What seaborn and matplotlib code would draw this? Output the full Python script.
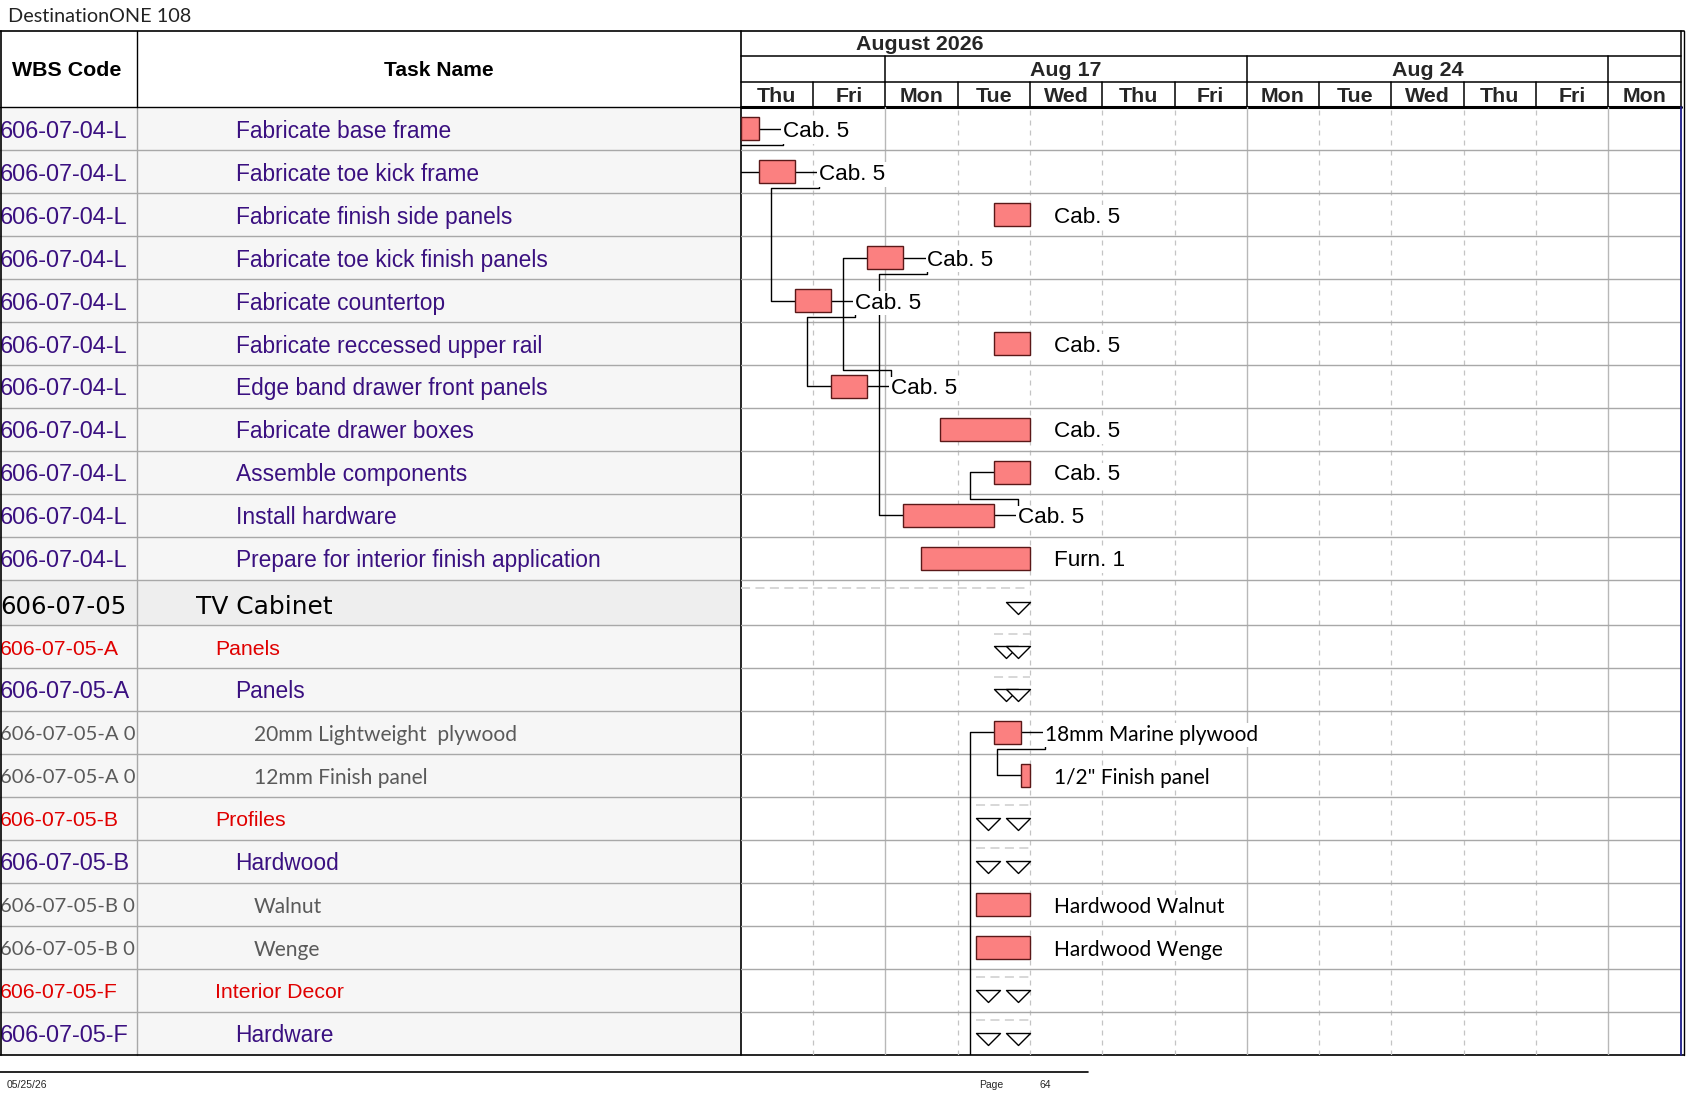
import matplotlib
matplotlib.use("Agg")
import matplotlib.pyplot as plt
from matplotlib.patches import Rectangle
from matplotlib.path import Path
import numpy as np
import pandas as pd
import seaborn as sns

sns.set_theme(style="white")
plt.rcParams['font.family'] = ['Liberation Sans', 'DejaVu Sans']

# ---------------- data ----------------
title = "DestinationONE 108"
month_label = "August 2026"
week_labels = ["", "Aug 17", "Aug 24", ""]
week_start = [0, 2, 7, 12]
week_end = [2, 7, 12, 13]
day_labels = ["Thu", "Fri", "Mon", "Tue", "Wed", "Thu", "Fri",
              "Mon", "Tue", "Wed", "Thu", "Fri", "Mon"]
week_first_days = [2, 7, 12]          # Mondays (solid grid lines)

wbs_codes = ["606-07-04-L"] * 11 + [
    "606-07-05", "606-07-05-A", "606-07-05-A", "606-07-05-A 0", "606-07-05-A 0",
    "606-07-05-B", "606-07-05-B", "606-07-05-B 0", "606-07-05-B 0",
    "606-07-05-F", "606-07-05-F"]
task_names = [
    "Fabricate base frame", "Fabricate toe kick frame", "Fabricate finish side panels",
    "Fabricate toe kick finish panels", "Fabricate countertop",
    "Fabricate reccessed upper rail", "Edge band drawer front panels",
    "Fabricate drawer boxes", "Assemble components", "Install hardware",
    "Prepare for interior finish application", "TV Cabinet", "Panels", "Panels",
    "20mm Lightweight  plywood", "12mm Finish panel", "Profiles", "Hardwood",
    "Walnut", "Wenge", "Interior Decor", "Hardware"]
row_kinds = ["task"] * 11 + ["summary1", "summary2", "summary3", "item", "item",
                             "summary2", "summary3", "item", "item",
                             "summary2", "summary3"]
# start / finish in working days from Thu Aug 13
start_day = [0.0, 0.25, 3.5, 1.75, 0.75, 3.5, 1.25, 2.75, 3.5, 2.25, 2.5,
             -2.0, 3.5, 3.5, 3.5, 3.875, 3.25, 3.25, 3.25, 3.25, 3.25, 3.25]
finish_day = [0.25, 0.75, 4.0, 2.25, 1.25, 4.0, 1.75, 4.0, 4.0, 3.5, 4.0,
              4.0, 4.0, 4.0, 3.875, 4.0, 4.0, 4.0, 4.0, 4.0, 4.0, 4.0]
bar_labels = ["Cab. 5"] * 10 + ["Furn. 1", "", "", "", "18mm Marine plywood",
                                '1/2" Finish panel', "", "", "Hardwood Walnut",
                                "Hardwood Wenge", "", ""]
links = [(0, 1), (1, 4), (4, 6), (6, 3), (3, 9), (9, 8), (14, 15)]
offpage_in = [14]
footer_date = "05/25/26"
page_label = "Page"
page_no = "64"

# ---------------- layout ----------------
W, H = 1687, 1097
X0, X1 = 740.7, 1680.7
HEAD_TOP, BODY_TOP = 30.7, 107.3
NDAYS = len(day_labels)
DW = (X1 - X0) / NDAYS
row_h = np.array([45.3 if k == "summary1" else 42.95 for k in row_kinds])
tops = np.concatenate([[0], np.cumsum(row_h)])[:-1]
centers = tops + row_h / 2
TOTAL = row_h.sum()
BODY_BOT = BODY_TOP + TOTAL
GAP = 24 / DW            # link / label offset in days
OFF = 16.7               # link vertical offset in px
TDY = 2.5                # text baseline nudge (px)

PURPLE = "#3a1080"
RED = "#e00000"
GRAY = "#5a5a5a"
GRID = "#a8a8a8"

fig = plt.figure(figsize=(W / 100, H / 100), dpi=100)
fig.patch.set_facecolor("white")

axT = fig.add_axes([0, 0, 1, 1])
axT.set_xlim(0, W)
axT.set_ylim(H, 0)
axT.axis("off")

axH = fig.add_axes([X0 / W, 1 - BODY_TOP / H, (X1 - X0) / W, (BODY_TOP - HEAD_TOP) / H])
axH.set_xlim(0, NDAYS)
axH.set_ylim(3, 0)
axH.axis("off")

axG = fig.add_axes([X0 / W, 1 - BODY_BOT / H, (X1 - X0) / W, TOTAL / H])
axG.set_xlim(0, NDAYS)
axG.set_ylim(TOTAL, 0)
axG.axis("off")

# ---------------- table background & text ----------------
for i, k in enumerate(row_kinds):
    y = BODY_TOP + tops[i]
    fc = "#eeeeee" if k == "summary1" else "#f6f6f6"
    axT.add_patch(Rectangle((0, y), X0, row_h[i], fc=fc, ec="none", zorder=0))

style = {
    "task": dict(color=PURPLE, family=["Liberation Sans"], size=16.4, csize=16.9, x=235.6),
    "summary3": dict(color=PURPLE, family=["Liberation Sans"], size=16.4, csize=16.9, x=235.6),
    "summary2": dict(color=RED, family=["Liberation Sans"], size=15.3, csize=15.3, x=215),
    "summary1": dict(color="black", family=["DejaVu Sans"], size=17.9, csize=17.6, x=196),
    "item": dict(color=GRAY, family=["Lato", "DejaVu Sans"], size=15.1, csize=14.6, x=254),
}
for i, k in enumerate(row_kinds):
    st = style[k]
    dy = TDY + (2.5 if k == "summary1" else 0)
    yc = BODY_TOP + centers[i] + dy
    axT.text(0, yc, wbs_codes[i], ha="left", va="center", color=st["color"],
             family=st["family"], fontsize=st["csize"], zorder=3)
    axT.text(st["x"], yc, task_names[i], ha="left", va="center", color=st["color"],
             family=st["family"], fontsize=st["size"], zorder=3)

# row lines in table
for b in tops[1:]:
    axT.plot([0, X0], [BODY_TOP + b] * 2, color=GRID, lw=1, zorder=2)
axT.plot([136.7, 136.7], [BODY_TOP, BODY_BOT], color=GRID, lw=1, zorder=2)

# header
axT.plot([136.7, 136.7], [HEAD_TOP, BODY_TOP], color="black", lw=1, zorder=4)
axT.plot([0, X0], [BODY_TOP, BODY_TOP], color="black", lw=1, zorder=4)
axT.text(67, 70, "WBS Code", ha="center", va="center", fontsize=15.4,
         fontweight="bold", color="black")
axT.text(438.5, 70, "Task Name", ha="center", va="center", fontsize=15.1,
         fontweight="bold", color="black")

# frame
axT.plot([0, 1684], [HEAD_TOP, HEAD_TOP], color="black", lw=1.2, zorder=5)
axT.plot([0, 1684], [BODY_BOT, BODY_BOT], color="black", lw=1.2, zorder=5)
axT.plot([0.6, 0.6], [HEAD_TOP, BODY_BOT], color="black", lw=1.2, zorder=5)
axT.plot([1684, 1684], [HEAD_TOP, BODY_BOT], color="black", lw=1.0, zorder=5)
axT.plot([X0, X0], [HEAD_TOP, BODY_BOT], color="black", lw=1.2, zorder=5)

# title & footer
axT.text(8, 16, title, ha="left", va="center", fontsize=14.3,
         family=["Lato", "DejaVu Sans"], color="#222222")
axT.plot([0, 1088], [1071.6, 1071.6], color="black", lw=1.2)
foot_fam = ["Liberation Sans Narrow", "Liberation Sans"]
axT.text(7, 1085, footer_date, ha="left", va="center", fontsize=7.5, family=foot_fam)
axT.text(979, 1085, page_label, ha="left", va="center", fontsize=7.5, family=foot_fam)
axT.text(1040, 1085, page_no, ha="left", va="center", fontsize=7.5, family=foot_fam)

# ---------------- timescale header ----------------
hk = dict(color="black", lw=1.1, clip_on=False)
axH.plot([0, NDAYS], [1, 1], **hk)
axH.plot([0, NDAYS], [2, 2], **hk)
axH.plot([0, NDAYS], [3, 3], color="black", lw=2.2, clip_on=False)
axH.plot([NDAYS, NDAYS], [0, 3], **hk)
for d in range(1, NDAYS):
    axH.plot([d, d], [2, 3], **hk)
for s in week_start[1:]:
    axH.plot([s, s], [1, 2], **hk)
hdy = 0.06
axH.text(2.47, 0.5 + hdy, month_label, ha="center", va="center", fontsize=15.4,
         fontweight="bold")
for lab, s, e in zip(week_labels, week_start, week_end):
    if lab:
        axH.text((s + e) / 2, 1.5 + hdy, lab, ha="center", va="center", fontsize=15.4,
                 fontweight="bold")
for d, lab in enumerate(day_labels):
    axH.text(d + 0.5, 2.5 + hdy, lab, ha="center", va="center", fontsize=15.4,
             fontweight="bold")

# ---------------- gantt body ----------------
for d in range(1, NDAYS):
    if d in week_first_days:
        axG.axvline(d, color="#b8b8b8", lw=1, zorder=1)
    else:
        axG.axvline(d, color="#c4c4c4", lw=0.9, ls=(0, (4, 4)), zorder=1)
for b in tops[1:]:
    axG.axhline(b, color=GRID, lw=1, zorder=1)
axG.axvline(NDAYS, color="#1c1c8a", lw=1.3, zorder=6, clip_on=False)

df = pd.DataFrame(dict(start=start_day, finish=finish_day, kind=row_kinds,
                       label=bar_labels, center=centers, top=tops))
bars = df[df.kind.isin(["task", "item"])]
axG.barh(bars.center, bars.finish - bars.start, left=bars.start, height=22.7,
         color="#fb8080", edgecolor="#5a1818", linewidth=1, zorder=3)

for i, r in bars.iterrows():
    if r.label:
        fam = ["Lato", "DejaVu Sans"] if r.kind == "item" else ["Liberation Sans"]
        fs = 15.0 if r.kind == "item" else 16.2
        axG.text(r.finish + GAP, r.center + TDY, r.label, ha="left", va="center",
                 fontsize=fs, family=fam, color="black", zorder=4,
                 bbox=dict(boxstyle="square,pad=0.08", fc="white", ec="none"))

for p, s in links:
    xe = finish_day[p] + GAP
    xs = start_day[s] - GAP
    yo = centers[p] + (OFF if s > p else -OFF)
    axG.plot([finish_day[p], xe, xe, xs, xs, start_day[s]],
             [centers[p], centers[p], yo, yo, centers[s], centers[s]],
             color="black", lw=1, zorder=2)
for s in offpage_in:
    xs = start_day[s] - GAP
    axG.plot([xs, xs, start_day[s]], [TOTAL + 5, centers[s], centers[s]],
             color="black", lw=1, zorder=2)

# summary rows: dashed bar + start/end triangles
summ = df[df.kind.str.startswith("summary")]
for i, r in summ.iterrows():
    axG.plot([max(r.start, 0), r.finish], [r.top + 8.5] * 2, color="#d4d4d4",
             lw=1.3, ls=(0, (5, 3)), zorder=2)
half = 12 / DW
tri = pd.DataFrame(dict(
    x=np.concatenate([summ.start + half, summ.finish - half]),
    y=np.concatenate([summ.center + 5.5, summ.center + 5.5])))
tri_marker = Path([(-1, 0.5), (1, 0.5), (0, -0.5), (-1, 0.5)],
                  [Path.MOVETO, Path.LINETO, Path.LINETO, Path.CLOSEPOLY])
sns.scatterplot(data=tri, x="x", y="y", ax=axG, marker=tri_marker, s=298,
                color="white", edgecolor="black", linewidth=1, zorder=5,
                legend=False)
axG.set_xlim(0, NDAYS)
axG.set_ylim(TOTAL, 0)
axG.axis("off")

fig.savefig("out.png", dpi=100, facecolor="white")
